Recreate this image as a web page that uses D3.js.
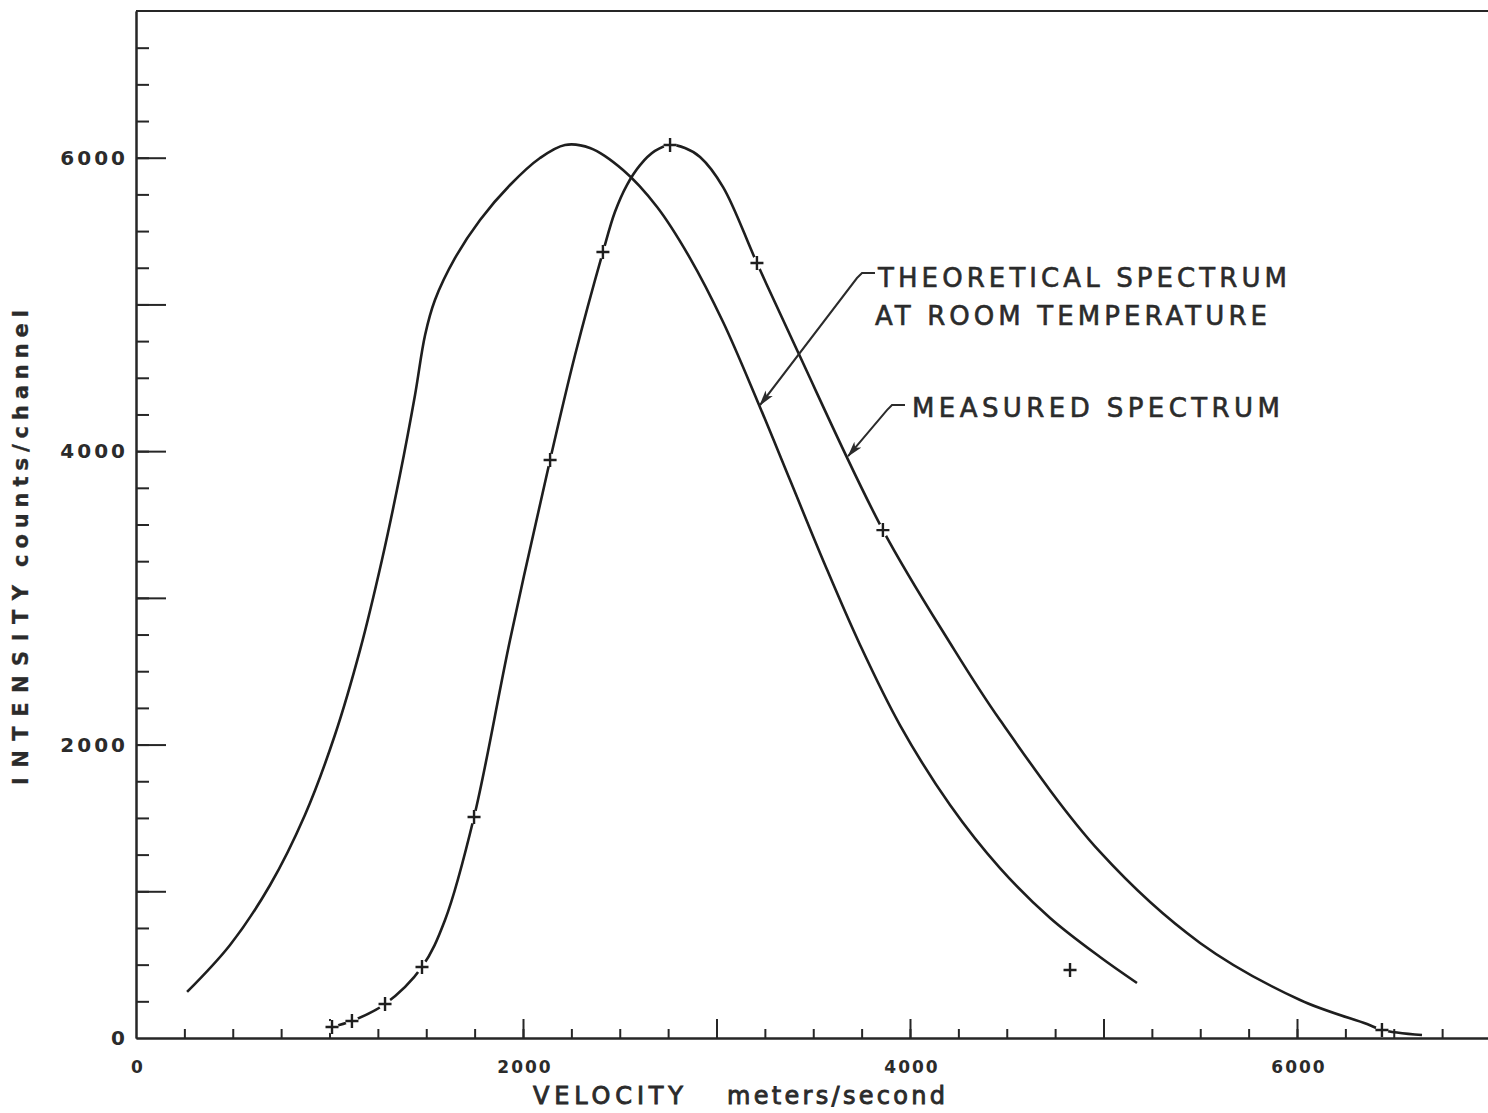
<!DOCTYPE html>
<meta charset="utf-8">
<title>Velocity spectrum</title>
<style>

body {
  margin: 0;
  background: #fff;
}

svg {
  display: block;
}

.axis path,
.axis line,
.frame {
  fill: none;
  stroke: #262626;
  stroke-width: 2;
}

.ticklabel {
  font-family: "DejaVu Sans", sans-serif;
  font-weight: bold;
  fill: #2b2b2b;
}

.axislabel {
  font-family: "DejaVu Sans", sans-serif;
  fill: #2b2b2b;
  stroke: #2b2b2b;
  stroke-width: 0.9;
}

.note {
  font-family: "DejaVu Sans", sans-serif;
  font-size: 26px;
  fill: #2b2b2b;
  stroke: #2b2b2b;
  stroke-width: 0.6;
}

.curve {
  fill: none;
  stroke: #1e1e1e;
  stroke-width: 2.6;
}

.leader {
  fill: none;
  stroke: #2b2b2b;
  stroke-width: 2;
}

.cross {
  stroke: #1e1e1e;
  stroke-width: 2.4;
  fill: none;
}

</style>
<svg class="chart" width="1488" height="1113">
  <defs>
    <marker id="arrow"
            markerWidth="16"
            markerHeight="10"
            viewBox="0 -5 16 10"
            refX="15"
            refY="0"
            markerUnits="userSpaceOnUse"
            orient="auto">
      <path d="M0,-4.5L16,0L0,4.5L4,0Z" fill="#2b2b2b"/>
    </marker>
  </defs>
</svg>

<script src="https://d3js.org/d3.v7.min.js"></script>
<script>

// tick labels
var xLabels = [0, 2000, 4000, 6000];
var yLabels = [0, 2000, 4000, 6000];

// theoretical spectrum at room temperature (smooth curve, no points)
var theoryVelocity  = [264, 486, 693, 873, 1028, 1158, 1271, 1364, 1442, 1494, 1545, 1649, 1778, 1933, 2088, 2217, 2346, 2517, 2693, 2863, 3034, 3209, 3380, 3561, 3742, 3948, 4207, 4465, 4724, 4982, 5173];
var theoryIntensity = [314, 634, 1043, 1520, 2065, 2645, 3258, 3837, 4383, 4792, 5030, 5317, 5576, 5814, 5998, 6087, 6066, 5916, 5664, 5316, 4880, 4349, 3803, 3224, 2679, 2133, 1588, 1158, 818, 552, 375];

// measured spectrum, drawn curve
var measuredVelocity  = [992, 1013, 1116, 1287, 1478, 1597, 1747, 1933, 2140, 2269, 2413, 2475, 2537, 2605, 2682, 2760, 2837, 2915, 3034, 3209, 3416, 3860, 4207, 4465, 4982, 5499, 6016, 6362, 6439, 6646];
var measuredIntensity = [61, 75, 116, 232, 484, 804, 1506, 2713, 3940, 4655, 5357, 5630, 5814, 5950, 6046, 6087, 6066, 6005, 5800, 5282, 4689, 3462, 2692, 2167, 1268, 648, 259, 95, 55, 20];

// measured points (crosses)
var pointVelocity  = [1013, 1116, 1287, 1478, 1747, 2140, 2413, 2760, 3209, 3860, 4827, 6439];
var pointIntensity = [75, 116, 232, 484, 1506, 3940, 5357, 6087, 5282, 3462, 463, 55];

var x = d3.scaleLinear()
    .domain([0, 7000])
    .range([136, 1490.5]);

var y = d3.scaleLinear()
    .domain([0, 7000])
    .range([1038, 11]);

var chart = d3.select(".chart");

// minor and major ticks on the x axis, pointing inward
chart.append("g")
    .attr("class", "axis")
    .attr("transform", "translate(0," + y(0) + ")")
    .call(d3.axisBottom(x)
        .tickValues(d3.range(250, 7000, 250))
        .tickSize(-9)
        .tickSizeOuter(0)
        .tickFormat(""));

chart.append("g")
    .attr("class", "axis")
    .attr("transform", "translate(0," + y(0) + ")")
    .call(d3.axisBottom(x)
        .tickValues(d3.range(1000, 7000, 1000))
        .tickSize(-19)
        .tickSizeOuter(0)
        .tickFormat(""));

chart.append("g")
    .attr("class", "axis")
    .attr("transform", "translate(" + x(0) + ",0)")
    .call(d3.axisLeft(y)
        .tickValues(d3.range(250, 7000, 250))
        .tickSize(-13)
        .tickSizeOuter(0)
        .tickFormat(""));

chart.append("g")
    .attr("class", "axis")
    .attr("transform", "translate(" + x(0) + ",0)")
    .call(d3.axisLeft(y)
        .tickValues(d3.range(1000, 7000, 1000))
        .tickSize(-30)
        .tickSizeOuter(0)
        .tickFormat(""));

// top frame line
chart.append("line")
    .attr("class", "frame")
    .attr("x1", x(0))
    .attr("x2", x(7000))
    .attr("y1", y(7000))
    .attr("y2", y(7000));

// tick labels
chart.selectAll(".xlabel")
    .data(xLabels)
  .enter().append("text")
    .attr("class", "ticklabel")
    .attr("x", function(d) { return x(d) + 2; })
    .attr("y", y(0) + 35)
    .style("font-size", "17px")
    .style("letter-spacing", "2px")
    .style("text-anchor", "middle")
    .text(function(d) { return d; });

chart.selectAll(".ylabel")
    .data(yLabels)
  .enter().append("text")
    .attr("class", "ticklabel")
    .attr("x", x(0) - 8)
    .attr("y", function(d) { return y(d); })
    .attr("dy", "0.36em")
    .style("font-size", "20px")
    .style("letter-spacing", "3px")
    .style("text-anchor", "end")
    .text(function(d) { return d; });

// axis titles
chart.append("text")
    .attr("class", "axislabel")
    .attr("x", 533)
    .attr("y", 1104)
    .attr("textLength", 150)
    .attr("lengthAdjust", "spacing")
    .style("font-size", "24px")
    .text("VELOCITY");

chart.append("text")
    .attr("class", "axislabel")
    .attr("x", 727)
    .attr("y", 1104)
    .attr("textLength", 218)
    .attr("lengthAdjust", "spacing")
    .style("font-size", "24px")
    .text("meters/second");

chart.append("text")
    .attr("class", "axislabel")
    .attr("transform", "rotate(-90)")
    .attr("x", -785)
    .attr("y", 28)
    .attr("textLength", 200)
    .attr("lengthAdjust", "spacing")
    .style("font-size", "21px")
    .style("font-weight", "bold")
    .style("stroke-width", "0.3")
    .text("INTENSITY");

chart.append("text")
    .attr("class", "axislabel")
    .attr("transform", "rotate(-90)")
    .attr("x", -567)
    .attr("y", 28)
    .attr("textLength", 257)
    .attr("lengthAdjust", "spacing")
    .style("font-size", "21px")
    .style("font-weight", "bold")
    .style("stroke-width", "0.3")
    .text("counts/channel");

var line = d3.line()
    .x(function(d) { return x(d[0]); })
    .y(function(d) { return y(d[1]); })
    .curve(d3.curveCatmullRom.alpha(0.5));

chart.append("path")
    .attr("class", "curve")
    .attr("d", line(d3.zip(theoryVelocity, theoryIntensity)));

chart.append("path")
    .attr("class", "curve")
    .attr("d", line(d3.zip(measuredVelocity, measuredIntensity)));

// measured points: a white patch breaks the curve round each cross
var points = chart.selectAll(".point")
    .data(d3.zip(pointVelocity, pointIntensity))
  .enter().append("g")
    .attr("class", "point")
    .attr("transform", function(d) { return "translate(" + x(d[0]) + "," + y(d[1]) + ")"; });

points.append("circle")
    .attr("r", 6.5)
    .attr("fill", "#fff");

points.append("path")
    .attr("class", "cross")
    .attr("d", "M-6.5,0H6.5M0,-7V7");

// annotations with leader arrows (in data units)
var leader = d3.line()
    .x(function(d) { return x(d[0]); })
    .y(function(d) { return y(d[1]); });

chart.append("path")
    .attr("class", "leader")
    .attr("marker-end", "url(#arrow)")
    .attr("d", leader([[3819, 5214], [3752, 5214], [3726, 5180], [3225, 4314]]));

chart.append("path")
    .attr("class", "leader")
    .attr("marker-end", "url(#arrow)")
    .attr("d", leader([[3974, 4315], [3907, 4315], [3881, 4280], [3680, 3966]]));

chart.append("text")
    .attr("class", "note")
    .attr("x", 878)
    .attr("y", 287)
    .attr("textLength", 409)
    .attr("lengthAdjust", "spacing")
    .text("THEORETICAL SPECTRUM");

chart.append("text")
    .attr("class", "note")
    .attr("x", 875)
    .attr("y", 325)
    .attr("textLength", 392)
    .attr("lengthAdjust", "spacing")
    .text("AT ROOM TEMPERATURE");

chart.append("text")
    .attr("class", "note")
    .attr("x", 912)
    .attr("y", 417)
    .attr("textLength", 368)
    .attr("lengthAdjust", "spacing")
    .text("MEASURED SPECTRUM");

</script>
